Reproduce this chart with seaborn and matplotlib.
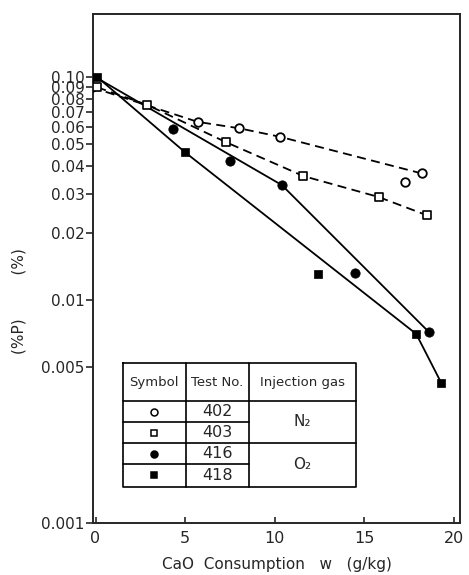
import numpy as np
import pandas as pd
import matplotlib
matplotlib.use("Agg")
import matplotlib.pyplot as plt
import seaborn as sns

# test 402 (N2, open circles)
w_402 = [-0.2, 5.7, 8.0, 10.3, 17.3, 18.2]
p_402 = [0.090, 0.063, 0.059, 0.054, 0.034, 0.037]
line_w_402 = [-0.2, 5.7, 8.0, 10.3, 18.2]
line_p_402 = [0.090, 0.063, 0.059, 0.054, 0.037]

# test 403 (N2, open squares)
w_403 = [0.1, 2.9, 7.3, 11.6, 15.8, 18.5]
p_403 = [0.090, 0.075, 0.051, 0.036, 0.029, 0.024]

# test 416 (O2, filled circles)
w_416 = [-0.3, 4.3, 7.5, 10.4, 14.5, 18.6]
p_416 = [0.100, 0.0585, 0.042, 0.0328, 0.0132, 0.0072]
line_w_416 = [0.0, 10.4, 18.6]
line_p_416 = [0.100, 0.0328, 0.0072]

# test 418 (O2, filled squares)
w_418 = [0.1, 5.0, 12.4, 17.9, 19.3]
p_418 = [0.100, 0.046, 0.0131, 0.00705, 0.00425]
line_w_418 = [0.1, 5.0, 17.9, 19.3]
line_p_418 = [0.100, 0.046, 0.00705, 0.00425]

yticks = [0.1, 0.09, 0.08, 0.07, 0.06, 0.05, 0.04, 0.03, 0.02, 0.01, 0.005, 0.001]
ytick_labels = ["0.10", "0.09", "0.08", "0.07", "0.06", "0.05", "0.04", "0.03",
                "0.02", "0.01", "0.005", "0.001"]
xticks = [0, 5, 10, 15, 20]

tests = ["402", "403", "416", "418"]
gases = ["N₂", "O₂"]

sns.set_style("ticks")
plt.rcParams['font.family'] = ['DejaVu Sans']

fig = plt.figure(figsize=(4.69, 5.75), dpi=100)
ax = fig.add_axes([0.198, 0.0904, 0.783, 0.8853])

dash = (5, 3)
sns.lineplot(x=line_w_402, y=line_p_402, ax=ax, color="black", lw=1.3,
             linestyle="--", sort=False)
sns.lineplot(x=w_403, y=p_403, ax=ax, color="black", lw=1.3, linestyle="--", sort=False)
sns.lineplot(x=line_w_416, y=line_p_416, ax=ax, color="black", lw=1.3, sort=False)
sns.lineplot(x=line_w_418, y=line_p_418, ax=ax, color="black", lw=1.3, sort=False)
for ln in ax.lines[:2]:
    ln.set_dashes(dash)

sns.scatterplot(x=w_402, y=p_402, ax=ax, marker="o", s=38, facecolor="white",
                edgecolor="black", linewidth=1.3, zorder=5)
sns.scatterplot(x=w_403, y=p_403, ax=ax, marker="s", s=30, facecolor="white",
                edgecolor="black", linewidth=1.2, zorder=5)
sns.scatterplot(x=w_416, y=p_416, ax=ax, marker="o", s=45, color="black",
                edgecolor="black", zorder=5)
sns.scatterplot(x=w_418, y=p_418, ax=ax, marker="s", s=40, color="black",
                edgecolor="black", zorder=5)

ax.set_yscale("log")
ax.set_xlim(-0.15, 20.35)
ax.set_ylim(0.001, 0.192)
ax.set_yticks(yticks)
ax.set_yticklabels(ytick_labels)
ax.yaxis.set_minor_locator(matplotlib.ticker.NullLocator())
ax.set_xticks(xticks)
ax.tick_params(axis="y", direction="out", length=5, width=1.2, labelsize=11, pad=1)
ax.tick_params(axis="x", direction="in", length=4, width=1.2, labelsize=11.5, pad=6)
for sp in ax.spines.values():
    sp.set_visible(True)
    sp.set_linewidth(1.4)

ax.set_xlabel("CaO  Consumption   w   (g/kg)", fontsize=11, labelpad=8)
ax.set_ylabel("(%P)         (%)", fontsize=11)
ax.yaxis.set_label_coords(-0.18, 0.436)

# legend table
x0, x1, x2, x3 = 0.082, 0.253, 0.425, 0.717
ys = [0.314, 0.240, 0.198, 0.157, 0.116, 0.071]
kw = dict(transform=ax.transAxes, color="black", lw=1.2, clip_on=False)
ax.plot([x0, x3, x3, x0, x0], [ys[0], ys[0], ys[-1], ys[-1], ys[0]], **kw)
for y in ys[1:-1]:
    right = x3 if y in (ys[1], ys[3]) else x2
    ax.plot([x0, right], [y, y], **kw)
ax.plot([x1, x1], [ys[0], ys[-1]], **kw)
ax.plot([x2, x2], [ys[0], ys[-1]], **kw)

hy = (ys[0] + ys[1]) / 2
ax.text((x0 + x1) / 2, hy, "Symbol", transform=ax.transAxes, ha="center", va="center", fontsize=9.5)
ax.text((x1 + x2) / 2, hy, "Test No.", transform=ax.transAxes, ha="center", va="center", fontsize=9.5)
ax.text((x2 + x3) / 2, hy, "Injection gas", transform=ax.transAxes, ha="center", va="center", fontsize=9.5)

sym_style = [("o", "white"), ("s", "white"), ("o", "black"), ("s", "black")]
for i, t in enumerate(tests):
    yc = (ys[i + 1] + ys[i + 2]) / 2
    m, fc = sym_style[i]
    ax.plot([(x0 + x1) / 2], [yc], marker=m, ms=5 if m == "o" else 4.5, mfc=fc, mec="black",
            mew=1.1, transform=ax.transAxes, clip_on=False, ls="none")
    ax.text((x1 + x2) / 2, yc, t, transform=ax.transAxes, ha="center", va="center", fontsize=11.5)
for j, g in enumerate(gases):
    yc = (ys[1 + 2 * j] + ys[3 + 2 * j]) / 2
    ax.text((x2 + x3) / 2, yc, g, transform=ax.transAxes, ha="center", va="center", fontsize=11)

plt.savefig("out.png", dpi=100)
